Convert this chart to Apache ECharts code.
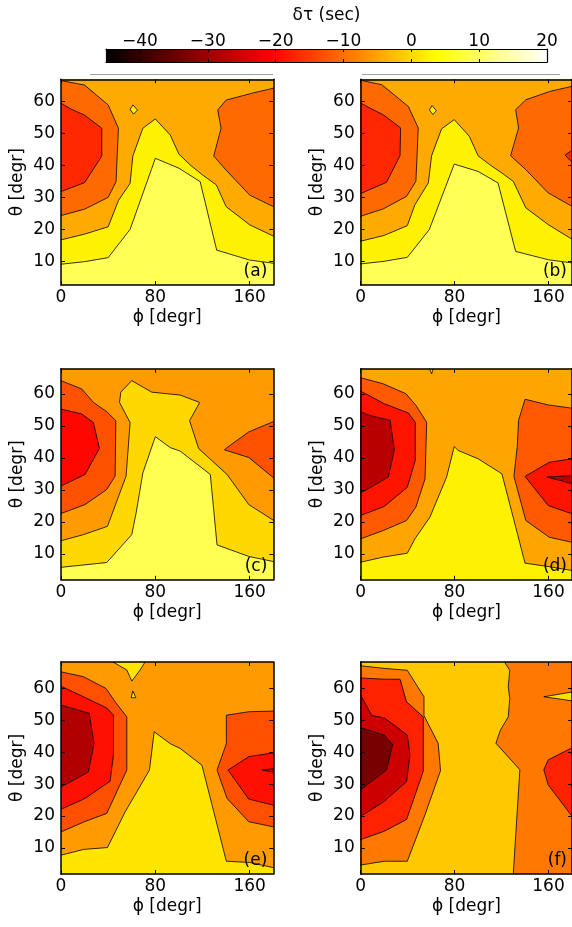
<!DOCTYPE html>
<html>
<head>
<meta charset="utf-8">
<script src="https://cdn.jsdelivr.net/npm/echarts@6/dist/echarts.min.js"></script>
<style>
html,body{margin:0;padding:0;background:#fff;}
#chart{width:572px;height:927px;}
</style>
</head>
<body>
<div id="chart"></div>
<script>
// ---------------- data ----------------
const phiTicks = [0, 80, 160];
const thetaTicks = [10, 20, 30, 40, 50, 60];
const cbTicks = [-40, -30, -20, -10, 0, 10, 20];
const cbRange = [-45, 20];
const panelNames = ['(a)', '(b)', '(c)', '(d)', '(e)', '(f)'];
const phiRange = [0, 180];
const thetaRanges = [[2.7, 67.0], [2.7, 67.0], [1.9, 67.8], [1.9, 67.8], [1.8, 68.3], [1.8, 68.3]];
// background level (δτ, s) of each panel
const baseLevels = [-4.4, -4.4, -5.9, -4.9, -5.9, -1.5];
// filled contour regions: [δτ level (s), [[φ, θ], ...]]
const regionsA = [
  [-10.5, [[-2,66.6],[0,66.6],[20,65.2],[40,59],[48.7,51.7],[47.5,42],[46.7,35],[40,30.1],[20,26.4],[0,24.4],[-2,24.4]]],
  [-16.8, [[-2,59.5],[0,59.5],[9,57.6],[20,55.8],[34.6,51.7],[34.6,43],[20,34.7],[0,31.9],[-2,31.9]]],
  [-10.5, [[182,64.2],[180,64.2],[163.5,62.8],[140,60.5],[132.9,57.4],[135.7,51.7],[129.5,43],[140,38.6],[160,30.8],[180,27.2],[182,27.2]]],
  [2.5, [[-2,16.8],[0,16.8],[20,18.6],[40,20.9],[48.7,29.1],[58.6,34.5],[60.9,43],[69.4,51.7],[80,54.6],[92.6,49.6],[100,43.6],[109.6,40.2],[120,37.1],[131.7,34],[140,27.2],[160,21.5],[180,18],[182,18],[182,-2],[-2,-2]]],
  [9.2, [[-2,9.2],[0,9.2],[20,10],[40,11.25],[58.6,20.1],[80,42.3],[100,39.2],[118,35],[132,13.6],[160,10.5],[180,9.5],[182,9.5],[182,-2],[-2,-2]]],
  [2.5, [[58.6,57.6],[60.9,59],[64.9,57.4],[61.5,56.1]]]
];
const regionsB = [
  [-10.5, [[-2,66.7],[0,66.7],[18,65.3],[40.6,58.5],[49,51.8],[48,43],[47,35.1],[39,30.4],[19.3,26.5],[0,24.2],[-2,24.2]]],
  [-16.8, [[-2,59.6],[0,59.6],[9.4,57.7],[19.3,55.9],[34,51.8],[33.5,43.1],[22,34.8],[0,31.3],[-2,31.3]]],
  [-10.5, [[182,64.8],[180,64.8],[161,63.2],[140.7,60.6],[132,57.5],[134.5,51.8],[127.7,43.1],[140.7,38.75],[159.7,31.5],[180,27.3],[182,27.3]]],
  [-16.8, [[182,45.3],[174,43.3],[182,40.4]]],
  [2.5, [[-2,16.4],[0,16.4],[20,18.2],[39.7,21.25],[46.2,27.8],[57.6,34.6],[60.4,43.1],[68.9,51.5],[79.7,54.4],[92.5,49.2],[100,43.1],[110,40.3],[120.3,37.7],[130,35.1],[140.7,26.8],[159.7,21.6],[180,17],[182,17],[182,-2],[-2,-2]]],
  [9.2, [[-2,9.3],[0,9.3],[20,10.1],[39.7,11.35],[58.4,20],[79.7,40.5],[100,38.2],[117,34.6],[132,13.2],[159.7,10.6],[180,9.6],[182,9.6],[182,-2],[-2,-2]]],
  [2.5, [[58.5,57.4],[60.8,58.8],[64.5,57.2],[61.5,56]]]
];
const regionsC = [
  [-12.8, [[-2,64.1],[0,64.1],[17.6,61.5],[27.5,57.3],[38.8,54.4],[46.5,51.6],[45.9,34.3],[38.8,30.1],[20.4,25.4],[0,22.6],[-2,22.6]]],
  [-20, [[-2,55.2],[0,55.2],[17.6,53.7],[27.5,51],[32.6,42.9],[20.4,34.8],[0,31.2],[-2,31.2]]],
  [-12.8, [[182,51.3],[180,51.3],[159.2,48.1],[140.8,43.2],[138.5,42.5],[159.2,40.1],[180,33.8],[182,33.8]]],
  [0, [[-2,14.1],[0,14.1],[19,16],[39.4,18.6],[55.2,34.3],[58.6,51],[49.6,57.3],[50.7,60.5],[60,64.1],[77,60.5],[101,59.6],[117.6,57.3],[109,51.6],[116.7,42.9],[140.8,34.8],[159.2,25.4],[180,20.5],[182,20.5],[182,-2],[-2,-2]]],
  [8.9, [[-2,5.8],[0,5.8],[38.8,7.3],[60,16],[63.7,22.8],[69.4,35.3],[80,46.6],[92.6,43.2],[101,42.1],[126.6,34.8],[132.3,12.8],[159.2,9.2],[180,7.6],[182,7.6],[182,-2],[-2,-2]]]
];
const regionsD = [
  [-12, [[-2,65],[0,65],[19.3,63.1],[38.6,60],[47,56.4],[56.2,51.1],[54.8,33.4],[47,24.6],[39,20.4],[19.3,17.3],[0,14.7],[-2,14.7]]],
  [-18.7, [[-2,60.8],[0,60.8],[9.4,59],[20,56.9],[40.6,54],[46.5,51.1],[46.5,39.2],[39.7,30.8],[20,24.8],[0,22],[-2,22]]],
  [-27.4, [[-2,54.3],[0,54.3],[8,53.2],[25,51.7],[28.7,42.5],[23.5,34],[0,29],[-2,29]]],
  [2.5, [[-2,7.4],[0,7.4],[19.3,9],[39.7,10.2],[46.2,14.7],[59,21.5],[73.2,34],[79.7,43.5],[83,42.3],[100,39.7],[120.3,35],[140,7.1],[160.6,6],[180,4.8],[182,4.8],[182,-2],[-2,-2]]],
  [-12, [[182,55.5],[180,55.5],[160,56.5],[140,58.3],[134.5,51.7],[133.3,43.3],[130.5,34.2],[140.7,20.4],[160.6,15.2],[180,13.6],[182,13.6]]],
  [-18.7, [[182,39.7],[180,39.7],[160.6,38.6],[140,34.2],[159.7,25.1],[180,22.5],[182,22.5]]],
  [-27.4, [[182,34.5],[158.9,34],[182,31.7]]],
  [2.5, [[56.2,70],[60.4,66.2],[63.3,70]]]
];
const regionsE = [
  [-13, [[-2,65.2],[0,65.2],[19,63.7],[38.2,60],[45.9,55.8],[55.8,51.1],[55.8,34.4],[38.8,20.8],[19.8,18.2],[0,15],[-2,15]]],
  [-19.1, [[-2,60.7],[0,60.7],[19,57.4],[38.8,53.9],[44.5,51.6],[44.5,39.1],[41.6,30.9],[20.4,25.5],[0,22.1],[-2,22.1]]],
  [-28.2, [[-2,54.8],[0,54.8],[24,52.2],[28,42.7],[23.2,33.8],[0,29.1],[-2,29.1]]],
  [1.3, [[-2,7.7],[0,7.7],[19,9.5],[39.4,10.1],[54.4,21.3],[75,34.4],[79,46.4],[92.6,42.7],[101,41.2],[119.5,35.9],[140.2,5.8],[160,5.4],[180,3.8],[182,3.8],[182,-2],[-2,-2]]],
  [1.3, [[43.6,70],[43.6,68.4],[55.8,65.8],[60,62.3],[67.1,65.8],[71.4,68.4],[71.4,70]]],
  [1.3, [[59.5,57.1],[60.9,59.2],[63.5,57.1]]],
  [-13, [[182,52.9],[180,52.9],[159.2,52.7],[140.2,51.6],[140.2,42.7],[132.3,34.4],[140.8,25.5],[159.2,18.2],[180,16.6],[182,16.6]]],
  [-19.1, [[182,39.8],[180,39.8],[159.2,38.6],[141.6,34.4],[159.2,25.3],[180,23.4],[182,23.4]]],
  [-28.2, [[182,34.9],[170.5,34.4],[182,33.6]]]
];
const regionsF = [
  [-9.2, [[-2,67.1],[0,67.1],[20,66.3],[39.7,65.7],[53.9,57.4],[53.9,51.5],[66,42.8],[68,34.2],[54.8,20.4],[39.7,5.8],[20,5.8],[0,4.6],[-2,4.6]]],
  [-17.4, [[-2,63.3],[0,63.3],[20,62.9],[33.5,62.9],[39.1,55.8],[53.3,51.1],[53.3,34],[39.1,18.9],[20,15.2],[0,12.6],[-2,12.6]]],
  [-25.5, [[-2,57.9],[0,57.9],[9.4,51.5],[20,50.8],[39.7,45.4],[42,39.2],[39.1,30.8],[20,24.6],[0,19.9],[-2,19.9]]],
  [-33.5, [[-2,47.7],[0,47.7],[20,45.4],[27.2,42.5],[22.1,34.5],[0,28.2],[-2,28.2]]],
  [-9.2, [[122.8,70],[122.8,68.1],[127,65.7],[125.7,60.5],[127,56.9],[125.7,51.1],[119.1,47],[115.2,42.8],[135.6,34.5],[130,2],[130,-2],[182,-2],[182,70]]],
  [-17.4, [[182,41.4],[180,41.4],[159.7,37.6],[156,34.5],[159.7,29.8],[180,19.9],[182,19.9]]],
  [0.8, [[182,59],[156,57.4],[182,56]]]
];
const panelRegions = [regionsA, regionsB, regionsC, regionsD, regionsE, regionsF];

// ---------------- layout / style ----------------
const FONT = 'DejaVu Sans';
const FS = 17;
const colLeft = [61, 360.7];
const panelW = 212.3;
const rows = [{ top: 79.3, h: 205.7 }, { top: 368.8, h: 211 }, { top: 662, h: 212 }];
const cbBox = { left: 106, top: 49, width: 441, height: 13 };

function hot(v) {
  const t = Math.min(1, Math.max(0, (v - cbRange[0]) / (cbRange[1] - cbRange[0])));
  const r = Math.min(1, t / 0.375);
  const g = Math.min(1, Math.max(0, (t - 0.375) / 0.375));
  const b = Math.min(1, Math.max(0, (t - 0.75) / 0.25));
  return 'rgb(' + Math.round(r * 255) + ',' + Math.round(g * 255) + ',' + Math.round(b * 255) + ')';
}
const minus = (v) => String(v).replace('-', '\u2212');

const chart = echarts.init(document.getElementById('chart'), null, { renderer: 'canvas' });

const grids = [], xAxes = [], yAxes = [], series = [], graphics = [];
const lineBlack = { color: '#000', width: 1.5 };

for (let i = 0; i < 6; i++) {
  const col = i % 2, row = Math.floor(i / 2);
  const L = colLeft[col], T = rows[row].top, H = rows[row].h;
  grids.push({ left: L, top: T, width: panelW, height: H, containLabel: false });
  const tr = thetaRanges[i];
  xAxes.push({
    type: 'value', gridIndex: i, position: 'bottom', min: phiRange[0], max: phiRange[1], z: 10,
    axisLine: { show: true, onZero: false, lineStyle: lineBlack },
    axisTick: { show: true, inside: true, length: 4, customValues: phiTicks, lineStyle: { color: '#000', width: 1 } },
    axisLabel: { show: true, customValues: phiTicks, color: '#000', fontFamily: FONT, fontSize: FS, margin: 4 },
    splitLine: { show: false },
    name: '\u03D5 [degr]', nameLocation: 'middle', nameGap: 24,
    nameTextStyle: { color: '#000', fontFamily: FONT, fontSize: FS }
  });
  xAxes.push({
    type: 'value', gridIndex: i, position: 'top', min: phiRange[0], max: phiRange[1], z: 10,
    axisLine: { show: true, onZero: false, lineStyle: lineBlack },
    axisTick: { show: true, inside: true, length: 4, customValues: phiTicks, lineStyle: { color: '#000', width: 1 } },
    axisLabel: { show: false }, splitLine: { show: false }
  });
  yAxes.push({
    type: 'value', gridIndex: i, position: 'left', min: tr[0], max: tr[1], z: 10,
    axisLine: { show: true, onZero: false, lineStyle: lineBlack },
    axisTick: { show: true, inside: true, length: 4, customValues: thetaTicks, lineStyle: { color: '#000', width: 1 } },
    axisLabel: { show: true, customValues: thetaTicks, color: '#000', fontFamily: FONT, fontSize: FS, margin: 6 },
    splitLine: { show: false },
    name: '\u03B8 [degr]', nameLocation: 'middle', nameGap: 35, nameRotate: 90,
    nameTextStyle: { color: '#000', fontFamily: FONT, fontSize: FS }
  });
  yAxes.push({
    type: 'value', gridIndex: i, position: 'right', min: tr[0], max: tr[1], z: 10,
    axisLine: { show: true, onZero: false, lineStyle: lineBlack },
    axisTick: { show: true, inside: true, length: 4, customValues: thetaTicks, lineStyle: { color: '#000', width: 1 } },
    axisLabel: { show: false }, splitLine: { show: false }
  });
  const regions = [[baseLevels[i], [[-2, -2], [182, -2], [182, 72], [-2, 72]]]].concat(panelRegions[i]);
  series.push({
    type: 'custom', xAxisIndex: 2 * i, yAxisIndex: 2 * i, clip: true, silent: true, animation: false,
    data: regions.map((r, k) => [k]),
    renderItem: function (params, api) {
      const k = params.dataIndex;
      const reg = regions[k];
      const pts = reg[1].map(p => api.coord(p));
      return {
        type: 'polygon', shape: { points: pts },
        style: { fill: hot(reg[0]), stroke: k === 0 ? null : '#000', lineWidth: 0.8, lineJoin: 'miter' }
      };
    }
  });
  graphics.push({
    type: 'text', z: 100,
    style: {
      text: panelNames[i], x: L + panelW - 6, y: T + H - 5, align: 'right', verticalAlign: 'bottom',
      fill: '#000', font: FS + 'px "' + FONT + '"'
    }
  });
}

// colorbar
grids.push({ left: cbBox.left, top: cbBox.top, width: cbBox.width, height: cbBox.height, containLabel: false });
xAxes.push({
  type: 'value', gridIndex: 6, position: 'top', min: cbRange[0], max: cbRange[1], z: 10,
  axisLine: { show: true, onZero: false, lineStyle: { color: '#000', width: 1.2 } },
  axisTick: { show: true, inside: true, length: 3, customValues: cbTicks, lineStyle: { color: '#000', width: 1 } },
  axisLabel: { show: true, customValues: cbTicks, color: '#000', fontFamily: FONT, fontSize: FS, margin: -1, formatter: minus },
  splitLine: { show: false },
  name: '\u03B4\u03C4 (sec)', nameLocation: 'middle', nameGap: 25,
  nameTextStyle: { color: '#000', fontFamily: FONT, fontSize: FS }
});
xAxes.push({
  type: 'value', gridIndex: 6, position: 'bottom', min: cbRange[0], max: cbRange[1], z: 10,
  axisLine: { show: true, onZero: false, lineStyle: { color: '#000', width: 1.2 } },
  axisTick: { show: true, inside: true, length: 3, customValues: cbTicks, lineStyle: { color: '#000', width: 1 } },
  axisLabel: { show: false }, splitLine: { show: false }
});
yAxes.push({
  type: 'value', gridIndex: 6, position: 'left', min: 0, max: 1, z: 10,
  axisLine: { show: true, onZero: false, lineStyle: { color: '#000', width: 1.2 } },
  axisTick: { show: false }, axisLabel: { show: false }, splitLine: { show: false }
});
yAxes.push({
  type: 'value', gridIndex: 6, position: 'right', min: 0, max: 1, z: 10,
  axisLine: { show: true, onZero: false, lineStyle: { color: '#000', width: 1.2 } },
  axisTick: { show: false }, axisLabel: { show: false }, splitLine: { show: false }
});
const cbStops = [0, 0.375, 0.75, 1].map(o => ({ offset: o, color: hot(cbRange[0] + o * (cbRange[1] - cbRange[0])) }));
series.push({
  type: 'custom', xAxisIndex: 12, yAxisIndex: 12, silent: true, animation: false,
  data: [[0]],
  renderItem: function (params, api) {
    const p0 = api.coord([cbRange[0], 1]);
    const p1 = api.coord([cbRange[1], 0]);
    return {
      type: 'rect', shape: { x: p0[0], y: p0[1], width: p1[0] - p0[0], height: p1[1] - p0[1] },
      style: { fill: new echarts.graphic.LinearGradient(0, 0, 1, 0, cbStops) }
    };
  }
});

// faint separator lines under the colorbar
graphics.push({ type: 'line', shape: { x1: 90, y1: 74.5, x2: 273, y2: 74.5 }, style: { stroke: '#a0a0a0', lineWidth: 1 } });
graphics.push({ type: 'line', shape: { x1: 362, y1: 74.5, x2: 560, y2: 74.5 }, style: { stroke: '#a0a0a0', lineWidth: 1 } });

chart.setOption({
  animation: false,
  backgroundColor: '#fff',
  grid: grids, xAxis: xAxes, yAxis: yAxes, series: series, graphic: graphics
});
</script>
</body>
</html>
